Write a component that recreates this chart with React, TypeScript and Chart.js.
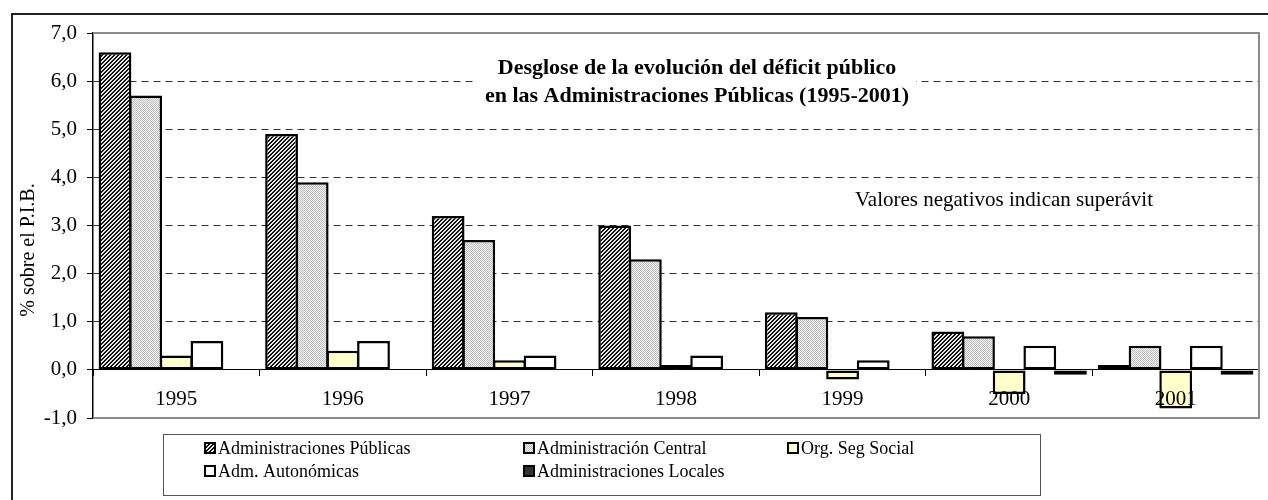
import React, { useEffect, useRef } from 'react';
import { Chart, registerables } from 'chart.js';

Chart.register(...registerables);

const years = ['1995', '1996', '1997', '1998', '1999', '2000', '2001'];
const adminPublicas = [6.6, 4.9, 3.2, 3.0, 1.2, 0.8, 0.1];
const adminCentral = [5.7, 3.9, 2.7, 2.3, 1.1, 0.7, 0.5];
const segSocial = [0.3, 0.4, 0.2, 0.1, -0.2, -0.5, -0.8];
const autonomicas = [0.6, 0.6, 0.3, 0.3, 0.2, 0.5, 0.5];
const locales = [0, 0, 0, 0, 0, -0.1, -0.1];
const seriesLabels = [
  'Administraciones Públicas',
  'Administración Central',
  'Org. Seg Social',
  'Adm. Autonómicas',
  'Administraciones Locales',
];
const yTicks = [-1, 0, 1, 2, 3, 4, 5, 6, 7];
const titleLines = [
  'Desglose de la evolución del déficit público',
  'en las Administraciones Públicas (1995-2001)',
];
const noteText = 'Valores negativos indican superávit';
const yTitle = '% sobre el P.I.B.';

const FONT = '"Liberation Serif", "Times New Roman", serif';

function makeHatch(): CanvasPattern | string {
  const c = document.createElement('canvas');
  c.width = 4;
  c.height = 4;
  const g = c.getContext('2d');
  if (!g) return '#666';
  g.fillStyle = '#e6e6e6';
  g.fillRect(0, 0, 4, 4);
  g.fillStyle = '#111';
  for (let x = 0; x < 4; x++) {
    for (let y = 0; y < 4; y++) {
      if ((x + y) % 4 < 2) g.fillRect(x, y, 1, 1);
    }
  }
  return g.createPattern(c, 'repeat') || '#666';
}

function makeStipple(): CanvasPattern | string {
  const c = document.createElement('canvas');
  c.width = 2;
  c.height = 2;
  const g = c.getContext('2d');
  if (!g) return '#ddd';
  g.fillStyle = '#f4f4f4';
  g.fillRect(0, 0, 2, 2);
  g.fillStyle = '#bcbcbc';
  g.fillRect(0, 0, 1, 1);
  g.fillRect(1, 1, 1, 1);
  return g.createPattern(c, 'repeat') || '#ddd';
}

const decorPlugin = {
  id: 'decor',
  beforeDraw(chart: any) {
    const ctx = chart.ctx;
    ctx.save();
    ctx.fillStyle = '#fff';
    ctx.fillRect(0, 0, chart.width, chart.height);
    ctx.strokeStyle = '#222';
    ctx.lineWidth = 2;
    ctx.strokeRect(12, 14, chart.width + 20, chart.height + 20);
    ctx.restore();
  },
  afterDraw(chart: any) {
    const ctx = chart.ctx;
    const a = chart.chartArea;
    ctx.save();
    // plot area border (top, right, bottom)
    ctx.strokeStyle = '#8a8a8a';
    ctx.lineWidth = 2;
    ctx.beginPath();
    ctx.moveTo(a.left, a.top);
    ctx.lineTo(a.right, a.top);
    ctx.lineTo(a.right, a.bottom);
    ctx.lineTo(a.left, a.bottom);
    ctx.stroke();

    // title box
    ctx.fillStyle = '#fff';
    ctx.fillRect(476, 48, 440, 64);
    ctx.fillStyle = '#000';
    ctx.font = `bold 22px ${FONT}`;
    ctx.textAlign = 'center';
    ctx.textBaseline = 'alphabetic';
    ctx.fillText(titleLines[0], 697, 74);
    ctx.fillText(titleLines[1], 697, 102);

    // note
    ctx.font = `21px ${FONT}`;
    ctx.textAlign = 'left';
    ctx.fillText(noteText, 855, 206);

    // y title
    ctx.save();
    ctx.translate(29, 250);
    ctx.rotate(-Math.PI / 2);
    ctx.textAlign = 'center';
    ctx.textBaseline = 'middle';
    ctx.font = `20px ${FONT}`;
    ctx.fillText(yTitle, 0, 0);
    ctx.restore();

    // legend
    ctx.strokeStyle = '#555';
    ctx.lineWidth = 1;
    ctx.strokeRect(163.5, 434.5, 877, 61);
    const cols = [205, 524, 788];
    const rows = [448, 471];
    ctx.font = `18px ${FONT}`;
    ctx.textBaseline = 'middle';
    ctx.textAlign = 'left';
    chart.data.datasets.forEach((ds: any, i: number) => {
      const x = cols[i % 3];
      const y = rows[Math.floor(i / 3)];
      ctx.fillStyle = ds.backgroundColor;
      ctx.fillRect(x, y - 5, 10, 10);
      ctx.strokeStyle = '#000';
      ctx.lineWidth = 2;
      ctx.strokeRect(x, y - 5, 10, 10);
      ctx.fillStyle = '#000';
      ctx.fillText(ds.label, x + 13, y + 1);
    });
    ctx.restore();
  },
};

export default function App() {
  const ref = useRef<HTMLCanvasElement>(null);

  useEffect(() => {
    if (!ref.current) return;
    const hatch = makeHatch();
    const stipple = makeStipple();
    const fills = [hatch, stipple, '#ffffcc', '#ffffff', '#333333'];
    const values = [adminPublicas, adminCentral, segSocial, autonomicas, locales];
    const chart = new Chart(ref.current, {
      type: 'bar',
      data: {
        labels: years,
        datasets: values.map((v, i) => ({
          label: seriesLabels[i],
          data: v,
          backgroundColor: fills[i] as any,
          borderColor: '#000',
          borderWidth: 2.5,
          borderSkipped: false,
          categoryPercentage: 0.92,
          barPercentage: 1.07,
        })),
      },
      options: {
        responsive: false,
        animation: false,
        devicePixelRatio: 1,
        layout: { padding: { left: 0, top: 33, right: 9, bottom: 82 } },
        plugins: {
          legend: { display: false },
          title: { display: false },
          tooltip: { enabled: false },
        },
        scales: {
          x: {
            type: 'category',
            position: { y: 0 } as any,
            grid: {
              drawOnChartArea: false,
              drawTicks: true,
              tickLength: 6,
              color: '#000',
              offset: true,
            },
            border: { display: true, color: '#000', width: 1 },
            ticks: {
              z: 1,
              padding: 11,
              color: '#000',
              font: { family: FONT, size: 21 },
              maxRotation: 0,
            },
          },
          y: {
            type: 'linear',
            min: -1,
            max: 7,
            afterFit: (s: any) => {
              s.width = 93;
            },
            afterBuildTicks: (s: any) => {
              s.ticks = yTicks.map((v) => ({ value: v }));
            },
            grid: {
              color: (c: any) =>
                c.tick && c.tick.value >= 1 && c.tick.value <= 6 ? '#333' : 'rgba(0,0,0,0)',
              tickColor: '#000',
              tickLength: 6,
              lineWidth: 1,
            },
            border: { display: true, color: '#000', width: 1.5, dash: [7, 5] },
            ticks: {
              padding: 10,
              color: '#000',
              font: { family: FONT, size: 21 },
              callback: (v: any) => Number(v).toFixed(1).replace('.', ','),
            },
          },
        },
      },
      plugins: [decorPlugin],
    });
    return () => chart.destroy();
  }, []);

  return (
    <div style={{ position: 'absolute', left: 0, top: 0, width: 1268, height: 500, background: '#fff' }}>
      <canvas ref={ref} width={1268} height={500} style={{ display: 'block', width: 1268, height: 500 }} />
    </div>
  );
}
